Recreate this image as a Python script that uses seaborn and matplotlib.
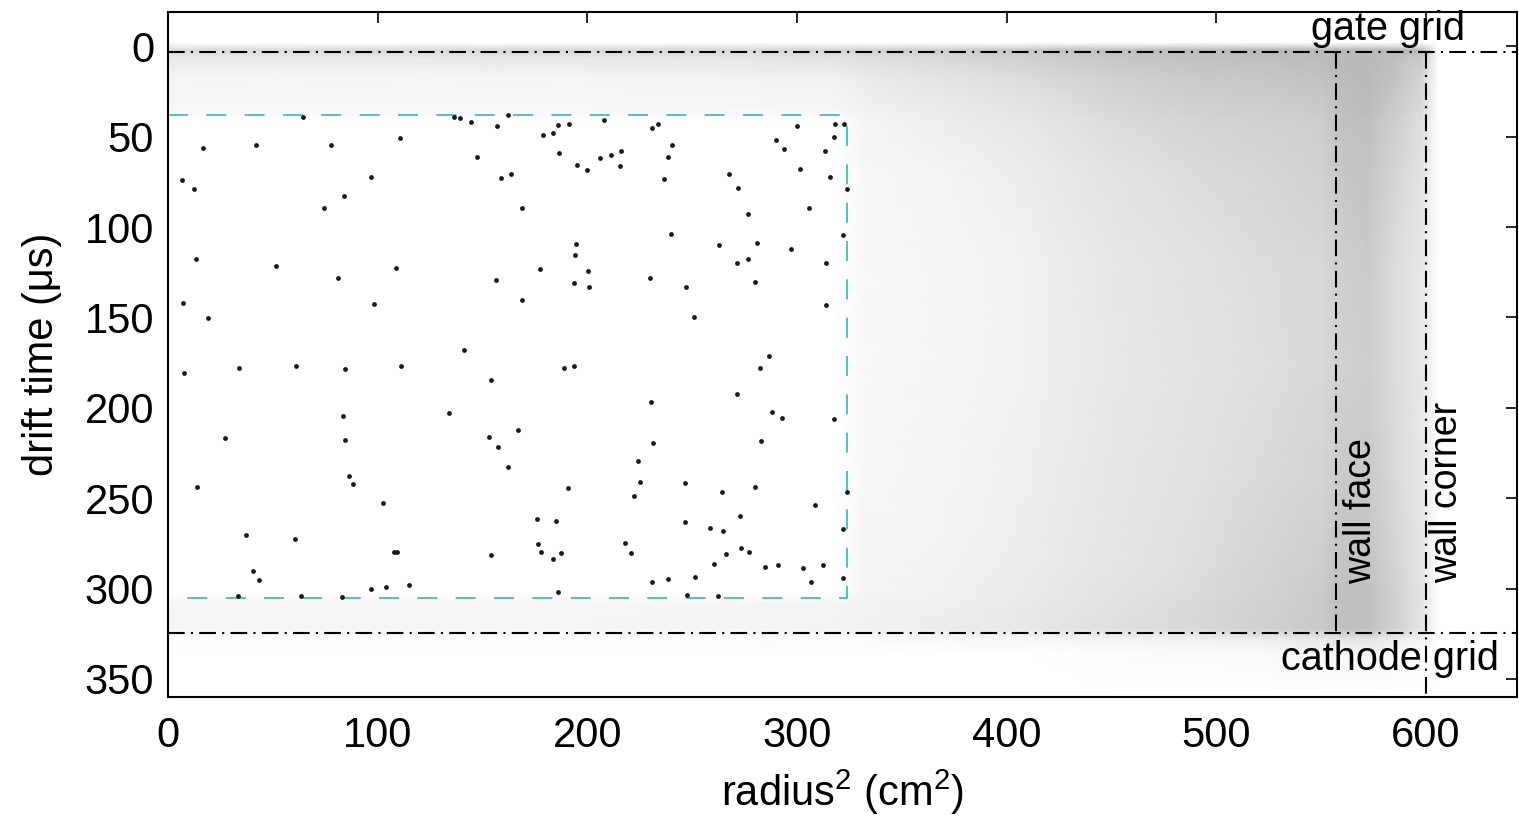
"""Drift time vs radius^2 event map"""

import matplotlib
matplotlib.use("Agg")
import matplotlib.pyplot as plt
from matplotlib.colors import LinearSegmentedColormap
import numpy as np
import pandas as pd
import seaborn as sns

sns.set_style("white")
plt.rcParams['font.family'] = ['Liberation Sans', 'DejaVu Sans']
plt.rcParams['mathtext.fontset'] = 'custom'
plt.rcParams['mathtext.rm'] = 'Liberation Sans'
for key in ['text.color', 'axes.labelcolor', 'xtick.color', 'ytick.color']:
    plt.rcParams[key] = 'black'

# events inside the fiducial box (radius^2 in cm^2, drift time in us)
box_r2 = [16.8, 41.8, 77.6, 6.8, 12.4, 97.0, 83.9, 74.4, 13.4, 51.5, 64.2, 108.5,
          110.6, 136.5, 139.2, 144.5, 162.3, 157.1, 147.2, 158.8, 163.7, 168.6, 179.0, 183.4,
          186.1, 191.4, 186.5, 195.2, 200.0, 205.9, 211.1, 216.0, 215.5, 207.9, 194.8, 194.0,
          200.1, 177.5,
          230.6, 233.8, 240.5, 238.6, 236.5, 267.7, 271.7, 276.5, 305.6, 289.8, 293.6, 300.1,
          301.2, 313.4, 317.6, 317.9, 322.4, 315.8, 323.6, 240.0, 262.9, 280.7, 276.4, 271.3,
          297.2, 313.9, 322.0,
          80.9, 98.4, 7.3, 18.9, 7.6, 33.9, 61.0, 84.4, 83.3, 27.2, 84.4,
          156.4, 168.6, 193.7, 200.9, 141.3, 111.0, 153.9, 189.0, 193.6, 134.1, 167.0, 153.1,
          229.9, 247.0, 250.8, 279.9, 313.8, 286.6, 282.2, 271.2, 230.3, 287.9, 292.8, 317.8,
          231.1, 282.6,
          13.7, 86.5, 88.4, 102.7, 37.2, 60.6, 40.7, 43.4, 33.2, 63.3, 82.8, 96.6, 104.0, 107.8,
          157.2, 162.0, 190.9, 176.1, 185.2, 176.3, 177.7, 187.6, 183.8, 154.1, 109.3, 115.1,
          186.1,
          224.3, 225.1, 222.4, 217.9, 220.8, 246.5, 246.5, 264.4, 279.9, 308.5, 323.6, 273.0,
          258.7, 264.8, 273.5, 277.0, 265.9, 260.5, 284.7, 291.0, 302.8, 312.4, 306.6, 322.0,
          322.0, 230.6, 238.6, 251.5, 247.3, 262.4]
box_t = [56.2, 54.7, 54.7, 74.1, 79.0, 72.2, 82.9, 89.2, 117.9, 121.6, 39.1, 122.6,
         50.5, 39.1, 39.4, 41.8, 37.8, 44.2, 61.2, 72.8, 70.4, 89.7, 49.2, 47.7,
         43.7, 42.7, 58.8, 65.4, 68.2, 61.7, 60.3, 58.0, 66.3, 40.5, 109.6, 115.5,
         124.4, 123.4,
         45.1, 42.7, 54.7, 61.2, 73.5, 70.4, 78.3, 92.5, 89.2, 52.0, 56.6, 44.2,
         67.6, 58.0, 50.1, 43.1, 43.1, 72.2, 79.2, 103.9, 110.0, 108.7, 117.9, 120.1,
         112.0, 119.8, 104.5,
         127.9, 142.6, 142.2, 150.2, 180.6, 178.2, 176.7, 178.7, 204.5, 216.9, 217.8,
         129.4, 140.4, 131.2, 133.4, 168.0, 176.7, 184.6, 177.8, 176.9, 203.0, 212.3, 216.0,
         127.9, 133.0, 149.6, 130.6, 143.2, 171.4, 178.2, 192.4, 196.6, 202.2, 205.5, 206.2,
         219.6, 218.4,
         243.9, 237.7, 242.3, 252.8, 270.3, 272.7, 290.0, 295.2, 303.9, 304.0, 304.4, 300.2,
         298.9, 280.0,
         221.5, 232.6, 244.5, 261.5, 262.4, 275.3, 279.5, 280.4, 283.8, 281.4, 279.9, 298.0,
         302.0,
         229.2, 240.8, 248.6, 274.9, 280.4, 241.7, 263.3, 246.7, 243.6, 253.7, 246.4, 259.8,
         266.3, 268.1, 277.3, 279.5, 281.0, 286.3, 287.8, 286.9, 288.7, 286.9, 296.1, 267.0,
         294.3, 296.1, 294.6, 293.7, 303.5, 303.9]

# density of the background event cloud, read as a coarse grid (0 = empty, 1 = saturated)
cloud_r2 = [0, 50, 120, 200, 280, 320, 332, 370, 410, 450, 490, 525, 550, 560, 572, 585, 598, 606, 645]
cloud_t = [-19, -2, 2, 7, 18, 35, 41, 70, 120, 180, 240, 285, 302, 308, 322, 328, 336, 360]
cloud_density = [
    [0] * 19,
    [0] * 19,
    [.5, .5, .55, .55, .55, .6, .65, .7, .8, .9, .95, 1, 1, 1, 1, 1, .95, 0, 0],
    [.3, .3, .3, .32, .35, .4, .45, .55, .65, .8, .85, .9, .95, 1, 1, .9, .75, 0, 0],
    [.15, .15, .15, .15, .18, .2, .28, .38, .5, .65, .75, .8, .85, .95, 1, .85, .6, 0, 0],
    [.1, .1, .1, .1, .12, .14, .2, .28, .38, .55, .65, .7, .75, .9, .95, .75, .5, 0, 0],
    [0, 0, 0, 0, 0, 0, .16, .24, .34, .5, .6, .65, .7, .88, .9, .7, .45, 0, 0],
    [0, 0, 0, 0, 0, 0, .12, .17, .25, .4, .5, .57, .65, .8, .85, .6, .4, 0, 0],
    [0, 0, 0, 0, 0, 0, .1, .14, .2, .33, .42, .5, .55, .7, .75, .5, .33, 0, 0],
    [0, 0, 0, 0, 0, 0, .1, .14, .2, .32, .4, .47, .55, .65, .7, .5, .33, 0, 0],
    [0, 0, 0, 0, 0, 0, .12, .16, .23, .34, .43, .53, .6, .75, .78, .55, .33, 0, 0],
    [0, 0, 0, 0, 0, 0, .14, .18, .25, .36, .47, .6, .7, .85, .85, .6, .38, 0, 0],
    [0, 0, 0, 0, 0, 0, .16, .2, .28, .4, .5, .63, .75, .9, .9, .65, .38, 0, 0],
    [.12, .12, .12, .12, .14, .16, .18, .22, .3, .42, .52, .65, .75, .9, .9, .65, .38, 0, 0],
    [.14, .14, .14, .14, .16, .18, .2, .25, .33, .45, .55, .67, .77, .9, .9, .65, .38, 0, 0],
    [.04, .04, .04, .04, .05, .06, .06, .09, .12, .17, .22, .28, .33, .38, .38, .28, .17, 0, 0],
    [0, 0, 0, 0, 0, 0, 0, 0, 0, .03, .06, .08, .1, .12, .12, .08, .05, 0, 0],
    [0] * 19,
]

# detector geometry
gate_t = 3.3
cathode_t = 324.5
wall_face_r2 = 557
wall_corner_r2 = 600
box_edges = (0, 324, 38, 305)  # r2 min/max, t min/max

fig = plt.figure(figsize=(15.19, 8.21), dpi=100)
ax = fig.add_axes([0.1106, 0.151, 0.888, 0.8344])

grey_cmap = LinearSegmentedColormap.from_list('cloud', ['#ffffff', '#b9b9b9'])
X, Y = np.meshgrid(cloud_r2, cloud_t)
ax.pcolormesh(X, Y, np.array(cloud_density), cmap=grey_cmap, vmin=0, vmax=1,
              shading='gouraud', rasterized=True, zorder=0)

df = pd.DataFrame({'r2': box_r2, 't': box_t})
sns.scatterplot(data=df, x='r2', y='t', ax=ax, color='#1a1a1a', s=12, linewidth=0, zorder=3)

dashdot = dict(color='black', lw=1.5, linestyle=(0, (8, 3, 1, 3)), zorder=4)
ax.axhline(gate_t, **dashdot)
ax.axhline(cathode_t, **dashdot)
ax.plot([wall_face_r2, wall_face_r2], [gate_t, cathode_t], **dashdot)
ax.plot([wall_corner_r2, wall_corner_r2], [gate_t, 360], **dashdot)

x0, x1, y0, y1 = box_edges
ax.plot([x0, x1, x1, x0], [y0, y0, y1, y1], color='#3db3b3', lw=1.2,
        linestyle=(0, (12, 11)), zorder=2)

ax.text(582, -3.3, 'gate grid', fontsize=28.5, ha='center', va='baseline')
ax.text(583, 345, 'cathode grid', fontsize=28.5, ha='center', va='baseline')
ax.text(569, 257, 'wall face', fontsize=27, rotation=90, ha='center', va='center')
ax.text(610, 247, 'wall corner', fontsize=27, rotation=90, ha='center', va='center')

ax.set_xlim(0, 643.3)
ax.set_ylim(360, -19)
ax.set_xticks(range(0, 601, 100))
ax.set_yticks(range(0, 351, 50))
ax.tick_params(direction='in', top=True, right=True, length=8, width=1.2,
               labelsize=30, pad=10)
ax.tick_params(axis='x', pad=14)
for spine in ax.spines.values():
    spine.set_linewidth(1.5)
    spine.set_color('black')

ax.set_xlabel(r'radius$^\mathregular{2}$ (cm$^\mathregular{2}$)', fontsize=30, labelpad=8)
ax.set_ylabel('drift time (\u03bcs)', fontsize=30, labelpad=16)

fig.savefig('out.png', dpi=100)
